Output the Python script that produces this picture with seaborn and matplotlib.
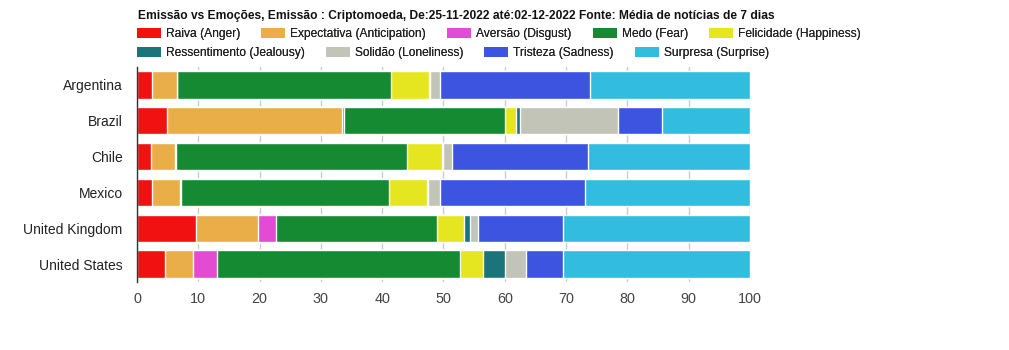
import matplotlib
matplotlib.use("Agg")
import matplotlib.pyplot as plt
from matplotlib.patches import Patch
import seaborn as sns
import numpy as np

countries = ["Argentina", "Brazil", "Chile", "Mexico", "United Kingdom", "United States"]
emotions = ["Raiva (Anger)", "Expectativa (Anticipation)", "Aversão (Disgust)", "Medo (Fear)",
            "Felicidade (Happiness)", "Ressentimento (Jealousy)", "Solidão (Loneliness)",
            "Tristeza (Sadness)", "Surpresa (Surprise)"]
anger        = [2.5, 4.9, 2.3, 2.5, 9.7, 4.5]
anticipation = [4.0, 28.6, 3.9, 4.5, 10.1, 4.7]
disgust      = [0.1, 0.2, 0.1, 0.2, 2.8, 3.8]
fear         = [34.8, 26.3, 37.7, 33.9, 26.4, 39.75]
happiness    = [6.3, 1.8, 5.8, 6.2, 4.4, 3.75]
jealousy     = [0.1, 0.7, 0.2, 0.2, 0.9, 3.5]
loneliness   = [1.7, 15.9, 1.4, 1.9, 1.3, 3.5]
sadness      = [24.4, 7.2, 22.2, 23.7, 13.9, 6.0]
surprise     = [26.1, 14.4, 26.4, 26.9, 30.5, 30.5]
x_ticks = [0, 10, 20, 30, 40, 50, 60, 70, 80, 90, 100]
title = "Emissão vs Emoções, Emissão : Criptomoeda, De:25-11-2022 até:02-12-2022 Fonte: Média de notícias de 7 dias"

colors = ["#f21111", "#e9ae47", "#e24bd2", "#158a33", "#e6e620",
          "#1a747a", "#c1c4b6", "#3d54e0", "#32bce0"]

series = [anger, anticipation, disgust, fear, happiness, jealousy, loneliness, sadness, surprise]

sns.set_theme(style="white")
plt.rcParams["font.family"] = ["Liberation Sans", "DejaVu Sans"]

W, H = 1009, 350
fig = plt.figure(figsize=(W / 100, H / 100), dpi=100)
ax = fig.add_axes([137 / W, 1 - 282 / H, (750 - 137) / W, (282 - 67) / H])

cum = np.cumsum(np.array(series), axis=0)
for i in range(len(series) - 1, -1, -1):
    sns.barplot(x=cum[i], y=countries, orient="h", color=colors[i], saturation=1,
                width=0.76, edgecolor="white", linewidth=1.0, errorbar=None, ax=ax)

ax.set_xlim(0, 100)
ax.set_xticks(x_ticks)
ax.set_xticklabels([str(t) for t in x_ticks])
ax.set_xlabel("")
ax.set_ylabel("")
ax.set_axisbelow(True)
ax.grid(axis="x", color="#cccccc", linewidth=1.0)
ax.grid(axis="y", visible=False)
for s in ["top", "right", "bottom"]:
    ax.spines[s].set_visible(False)
ax.spines["left"].set_color("#333333")
ax.spines["left"].set_linewidth(1.0)
ax.tick_params(axis="x", length=0, pad=7, labelsize=10.4, labelcolor="#444444")
ax.tick_params(axis="y", length=0, pad=10.3, labelsize=10, labelcolor="#222222")

fig.text(137.5 / W, 1 - 18.5 / H, title, fontsize=8.64, fontweight="bold",
         color="#111111", ha="left", va="baseline")

handles = [Patch(facecolor=c, edgecolor="none", linewidth=0) for c in colors]
rows = [(0, 5, 34), (5, 9, 53)]
for a, b, yc in rows:
    leg = fig.legend(handles[a:b], emotions[a:b], loc="center left",
                     bbox_to_anchor=(137 / W, 1 - yc / H), ncol=b - a, frameon=False,
                     fontsize=8.64, handlelength=2.0, handleheight=0.975,
                     handletextpad=0.42, columnspacing=1.75, borderpad=0,
                     borderaxespad=0)
    for t in leg.get_texts():
        t.set_color("#222222")
    fig.add_artist(leg)

fig.savefig("out.png", dpi=100)
